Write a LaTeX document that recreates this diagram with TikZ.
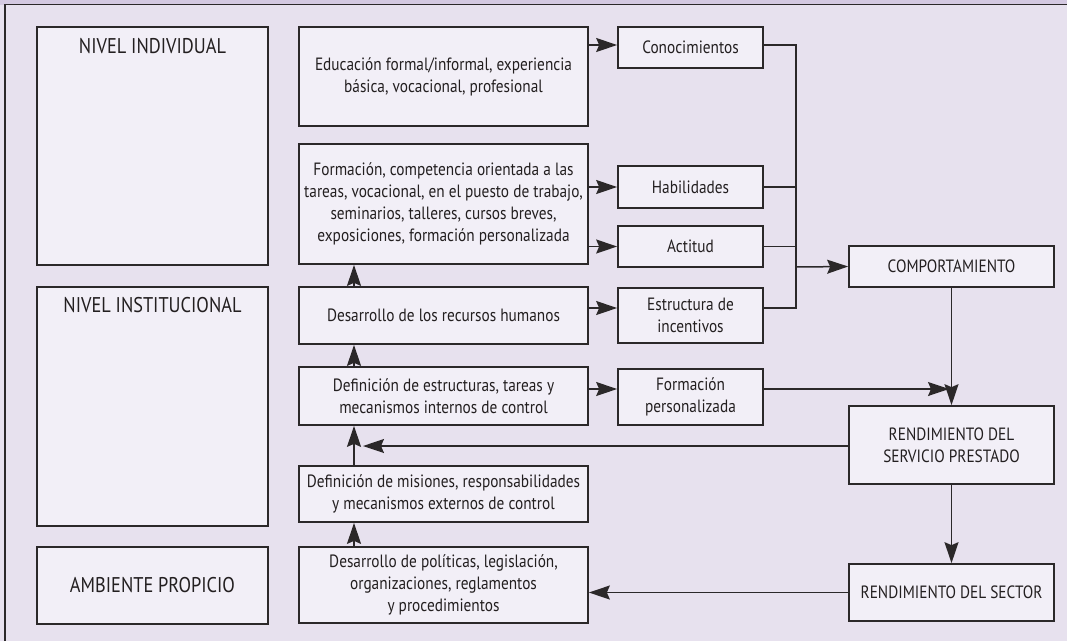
\documentclass[tikz,border=0pt]{standalone}
\usepackage{fontspec}
\setmainfont[FakeStretch=0.86]{PT Sans}
\usetikzlibrary{arrows.meta}
\definecolor{bgc}{HTML}{E7E1EE}
\definecolor{topc}{HTML}{D4C9E1}
\definecolor{boxc}{HTML}{F2EFF7}
\definecolor{linec}{HTML}{2B2829}
\definecolor{txtc}{HTML}{231F20}
\begin{document}
\begin{tikzpicture}[x=1pt,y=-1pt,
  box/.style={draw=linec,fill=boxc,line width=1.7pt,inner sep=0pt,align=center,text=txtc,
    font=\fontsize{17.8}{22}\selectfont},
  lbl/.style={inner sep=0pt,text=txtc,font=\fontsize{21.3}{24}\selectfont},
  conn/.style={draw=linec,line width=1.5pt},
  arr/.style={conn,-{Stealth[length=21pt,width=14pt,inset=3pt]}}]
\useasboundingbox (0,0) rectangle (1067,641);
\fill[bgc] (0,0) rectangle (1067,641);
\fill[topc] (0,0) rectangle (1067,4.5);
\draw[linec,line width=1.8pt] (5,641) -- (5,4.5) -- (1067,4.5);
% left column
\node[box,minimum width=231pt,minimum height=238pt] (ind) at (152.5,146) {};
\node[lbl] (indl) at (152.5,46) {NIVEL INDIVIDUAL};
\node[box,minimum width=231pt,minimum height=239pt] (inst) at (152.5,406.5) {};
\node[lbl] (instl) at (152.5,305) {NIVEL INSTITUCIONAL};
\node[box,minimum width=231pt,minimum height=77pt,font=\fontsize{21.3}{24}\selectfont] (amb) at (152.5,585.5) {AMBIENTE PROPICIO};
% middle column
\node[box,minimum width=289pt,minimum height=99pt] (edu) at (443.5,76.5) {Educación formal/informal, experiencia\\básica, vocacional, profesional};
\node[box,minimum width=289pt,minimum height=120pt] (form) at (443.5,204) {Formación, competencia orientada a las\\tareas, vocacional, en el puesto de trabajo,\\seminarios, talleres, cursos breves,\\exposiciones, formación personalizada};
\node[box,minimum width=289pt,minimum height=57pt] (drh) at (443.5,315.5) {Desarrollo de los recursos humanos};
\node[box,minimum width=289pt,minimum height=58pt] (defest) at (443.5,396) {Definición de estructuras, tareas y\\mecanismos internos de control};
\node[box,minimum width=289pt,minimum height=56pt] (defmis) at (443.5,494) {Definición de misiones, responsabilidades\\y mecanismos externos de control};
\node[box,minimum width=289pt,minimum height=76pt] (pol) at (443.5,585) {Desarrollo de políticas, legislación,\\organizaciones, reglamentos\\y procedimientos};
% third column
\node[box,minimum width=145pt,minimum height=41pt] (con) at (690.5,47.5) {Conocimientos};
\node[box,minimum width=145pt,minimum height=42pt] (hab) at (690.5,187) {Habilidades};
\node[box,minimum width=145pt,minimum height=41pt] (act) at (690.5,246.5) {Actitud};
\node[box,minimum width=145pt,minimum height=55pt] (est) at (690.5,315.5) {Estructura de\\incentivos};
\node[box,minimum width=145pt,minimum height=56pt] (fp) at (690.5,397) {Formación\\personalizada};
% right column
\node[box,minimum width=205pt,minimum height=41pt] (comp) at (951.5,266.5) {COMPORTAMIENTO};
\node[box,minimum width=205pt,minimum height=78pt] (rserv) at (951.5,445) {RENDIMIENTO DEL\\SERVICIO PRESTADO};
\node[box,minimum width=205pt,minimum height=57pt] (rsec) at (951.5,592.5) {RENDIMIENTO DEL SECTOR};
% helper coordinates
\coordinate (bus) at (796,267);
\coordinate (fpend) at (949,389);
\coordinate (rsend) at (363,446);
% arrows mid -> third column
\draw[arr] (edu.east |- 0,45) -- (con.west |- 0,45);
\draw[arr] (form.east |- hab.west) -- (hab.west);
\draw[arr] (form.east |- act.west) -- (act.west);
\draw[arr] (drh.east |- 0,308) -- (est.west |- 0,308);
\draw[arr] (defest.east |- 0,389) -- (fp.west |- 0,389);
% bus
\draw[conn] (con.east |- 0,45) -| (bus);
\draw[conn] (hab.east) -- (hab.east -| bus);
\draw[conn] (act.east) -- (act.east -| bus);
\draw[conn] (est.east |- 0,308) -| (bus);
\draw[arr] (bus) -- (comp.west);
% right side
\draw[arr] (fp.east |- fpend) -- (fpend);
\draw[arr] (comp.south) -- (rserv.north);
\draw[arr] (rserv.south) -- (rsec.north);
\draw[arr] (rserv.west |- rsend) -- (rsend);
\draw[arr] (rsec.west) -- (rsec.west -| pol.east);
% vertical chain
\draw[arr] (pol.north -| 354,0) -- (defmis.south -| 354,0);
\draw[arr] (defmis.north -| 354,0) -- (defest.south -| 354,0);
\draw[arr] (defest.north -| 354,0) -- (drh.south -| 354,0);
\draw[arr] (drh.north -| 354,0) -- (form.south -| 354,0);
\end{tikzpicture}
\end{document}
